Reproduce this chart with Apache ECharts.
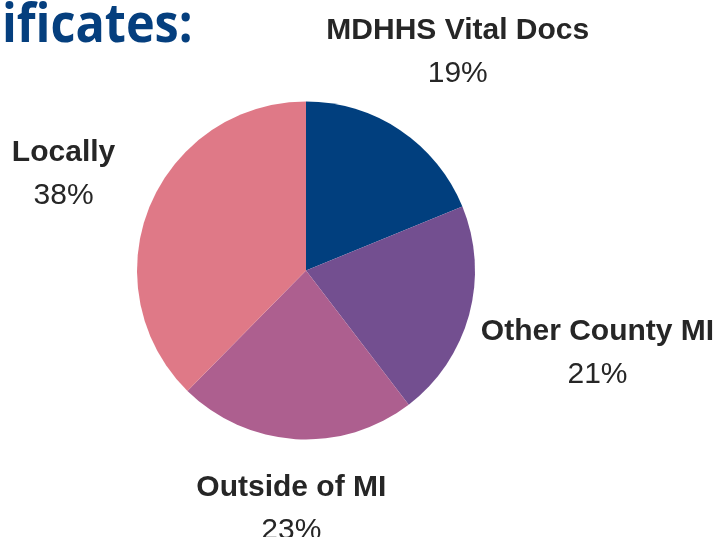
<!DOCTYPE html>
<html>
<head>
<meta charset="utf-8">
<script src="https://cdn.jsdelivr.net/npm/echarts@6/dist/echarts.min.js"></script>
<style>
  html, body { margin: 0; padding: 0; background: #fff; }
  #main { width: 717px; height: 537px; }
</style>
</head>
<body>
<div id="main"></div>
<script>
// 数据
const categories = ["MDHHS Vital Docs", "Other County MI", "Outside of MI", "Locally"];
const shares = [19, 21, 23, 38];
const colors = ["#013f7e", "#734f90", "#ad5f8f", "#df7987"];

// 布局
const cx = 306, cy = 270.5, radius = 169;
const labelDist = [267, 302, 236, 262];

const total = shares.reduce((a, b) => a + b, 0);
const midAngle = (i) => {
  let before = 0;
  for (let k = 0; k < i; k++) before += shares[k];
  return ((before + shares[i] / 2) / total) * Math.PI * 2;
};

const myChart = echarts.init(document.getElementById("main"));
myChart.setOption({
  backgroundColor: "#ffffff",
  animation: false,
  graphic: [
    {
      type: "text",
      x: 2,
      y: 0,
      scaleX: 0.9,
      silent: true,
      style: {
        text: "ificates:",
        font: 'bold 54px "Open Sans"',
        fill: "#053f7e",
        verticalAlign: "top",
      },
    },
  ],
  series: [
    {
      type: "pie",
      center: [cx, cy],
      radius: radius,
      startAngle: 90,
      clockwise: true,
      data: categories.map((name, i) => ({
        name,
        value: shares[i],
        itemStyle: { color: colors[i] },
      })),
      label: {
        show: true,
        position: "outside",
        overflow: "none",
        width: 400,
        formatter: (p) => "{n|" + p.name + "}\n{v|" + p.value + "%}",
        rich: {
          n: {
            fontFamily: "Liberation Sans",
            fontWeight: "bold",
            fontSize: 30,
            lineHeight: 43,
            color: "#262626",
            align: "center",
          },
          v: {
            fontFamily: "Liberation Sans",
            fontSize: 30,
            lineHeight: 43,
            color: "#262626",
            align: "center",
          },
        },
      },
      labelLine: { show: false },
      labelLayout: (params) => {
        const a = midAngle(params.dataIndex);
        const d = labelDist[params.dataIndex];
        return {
          x: cx + Math.sin(a) * d + (params.dataIndex === 0 ? 3 : 0),
          y: cy - Math.cos(a) * d + 3.5,
          align: "center",
          verticalAlign: "middle",
        };
      },
      emphasis: { disabled: true },
    },
  ],
});
</script>
</body>
</html>
